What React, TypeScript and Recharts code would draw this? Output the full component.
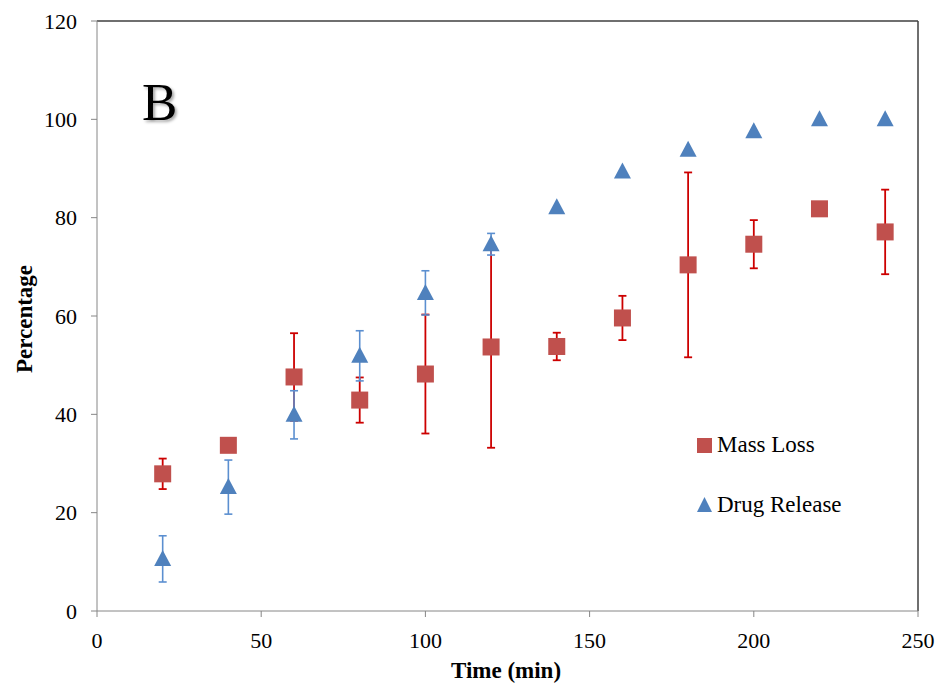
import React from 'react'
import {
  ScatterChart,
  Scatter,
  XAxis,
  YAxis,
  ErrorBar,
  ReferenceLine,
  Legend,
} from 'recharts'

// sampling times (min)
const times = [20, 40, 60, 80, 100, 120, 140, 160, 180, 200, 220, 240]

// Mass Loss (%) with error
const massLoss = [27.9, 33.7, 47.6, 42.9, 48.2, 53.7, 53.8, 59.6, 70.4, 74.6, 81.8, 77.1]
const massLossErr = [3.1, 0.8, 8.9, 4.6, 12.1, 20.5, 2.8, 4.5, 18.8, 4.9, 0, 8.6]

// Drug Release (%) with error
const drugRelease = [10.6, 25.2, 39.9, 51.9, 64.7, 74.6, 82.1, 89.4, 93.8, 97.6, 100, 100]
const drugReleaseErr = [4.7, 5.5, 4.9, 5.1, 4.5, 2.2, 0, 0, 0, 0, 0, 0]

const xTicks = [0, 50, 100, 150, 200, 250]
const yTicks = [0, 20, 40, 60, 80, 100, 120]

const massData = times.map((t, i) => ({ x: t, y: massLoss[i], err: massLossErr[i] }))
const drugData = times.map((t, i) => ({ x: t, y: drugRelease[i], err: drugReleaseErr[i] }))

const FONT = '"Liberation Serif", "Times New Roman", serif'
const RED = '#C0504D'
const BLUE = '#4F81BD'
const AXIS = '#868686'

const SquareMark = (props: any) => {
  const { cx, cy } = props
  if (cx == null || cy == null) return null
  return <rect x={cx - 8.5} y={cy - 8.5} width={17} height={17} fill={RED} />
}

const TriangleMark = (props: any) => {
  const { cx, cy } = props
  if (cx == null || cy == null) return null
  return <path d={`M${cx},${cy - 9} L${cx + 8.5},${cy + 7} L${cx - 8.5},${cy + 7} Z`} fill={BLUE} />
}

// legend drawn as a small svg, placed at the right of the plot
const LegendBox = () => (
  <svg width={220} height={90} style={{ display: 'block' }}>
    <rect x={0} y={8} width={15} height={15} fill={RED} />
    <text x={20} y={22} fontFamily={FONT} fontSize={23} fill="#000">Mass Loss</text>
    <path d="M7.5,67 L15,82 L0,82 Z" fill={BLUE} />
    <text x={20} y={82} fontFamily={FONT} fontSize={23} fill="#000">Drug Release</text>
  </svg>
)

export default function App() {
  return (
    <div style={{ position: 'absolute', left: 0, top: 0, width: 938, height: 688, background: '#fff' }}>
      <ScatterChart width={938} height={688} margin={{ top: 21, right: 20, bottom: 27, left: 0 }}>
        <XAxis
          type="number"
          dataKey="x"
          domain={[0, 250]}
          ticks={xTicks}
          height={50}
          stroke={AXIS}
          tickSize={6}
          tickMargin={15}
          tick={{ fill: '#000', fontSize: 22, fontFamily: FONT }}
          label={() => (
            <text x={506} y={678} textAnchor="middle" fontFamily={FONT} fontSize={23} fontWeight="bold" fill="#000">
              Time (min)
            </text>
          )}
        />
        <YAxis
          type="number"
          dataKey="y"
          domain={[0, 120]}
          ticks={yTicks}
          width={97}
          stroke={AXIS}
          tickSize={6}
          tickMargin={14}
          tick={{ fill: '#000', fontSize: 22, fontFamily: FONT }}
          label={() => (
            <text
              x={32}
              y={319}
              transform="rotate(-90 32 319)"
              textAnchor="middle"
              fontFamily={FONT}
              fontSize={23}
              fontWeight="bold"
              fill="#000"
            >
              Percentage
            </text>
          )}
        />
        <ReferenceLine y={120} stroke="#3f3f3f" strokeWidth={1.5} />
        <ReferenceLine x={250} stroke="#3f3f3f" strokeWidth={1.5} />
        <Legend
          layout="vertical"
          align="center"
          verticalAlign="middle"
          wrapperStyle={{ left: 697, top: 430, width: 220, height: 90 }}
          content={() => <LegendBox />}
        />
        <Scatter name="Mass Loss" data={massData} shape={SquareMark} isAnimationActive={false}>
          <ErrorBar dataKey="err" direction="y" width={4} stroke="#CC0000" strokeWidth={1.8} />
        </Scatter>
        <Scatter name="Drug Release" data={drugData} shape={TriangleMark} isAnimationActive={false}>
          <ErrorBar dataKey="err" direction="y" width={4} stroke="#5B8FD0" strokeWidth={1.6} />
        </Scatter>
      </ScatterChart>
      <div
        style={{
          position: 'absolute',
          left: 142,
          top: 76,
          fontFamily: FONT,
          fontSize: 53,
          lineHeight: 1,
          color: '#000',
          textShadow: '2px 2px 3px rgba(0,0,0,0.35)',
        }}
      >
        B
      </div>
    </div>
  )
}
